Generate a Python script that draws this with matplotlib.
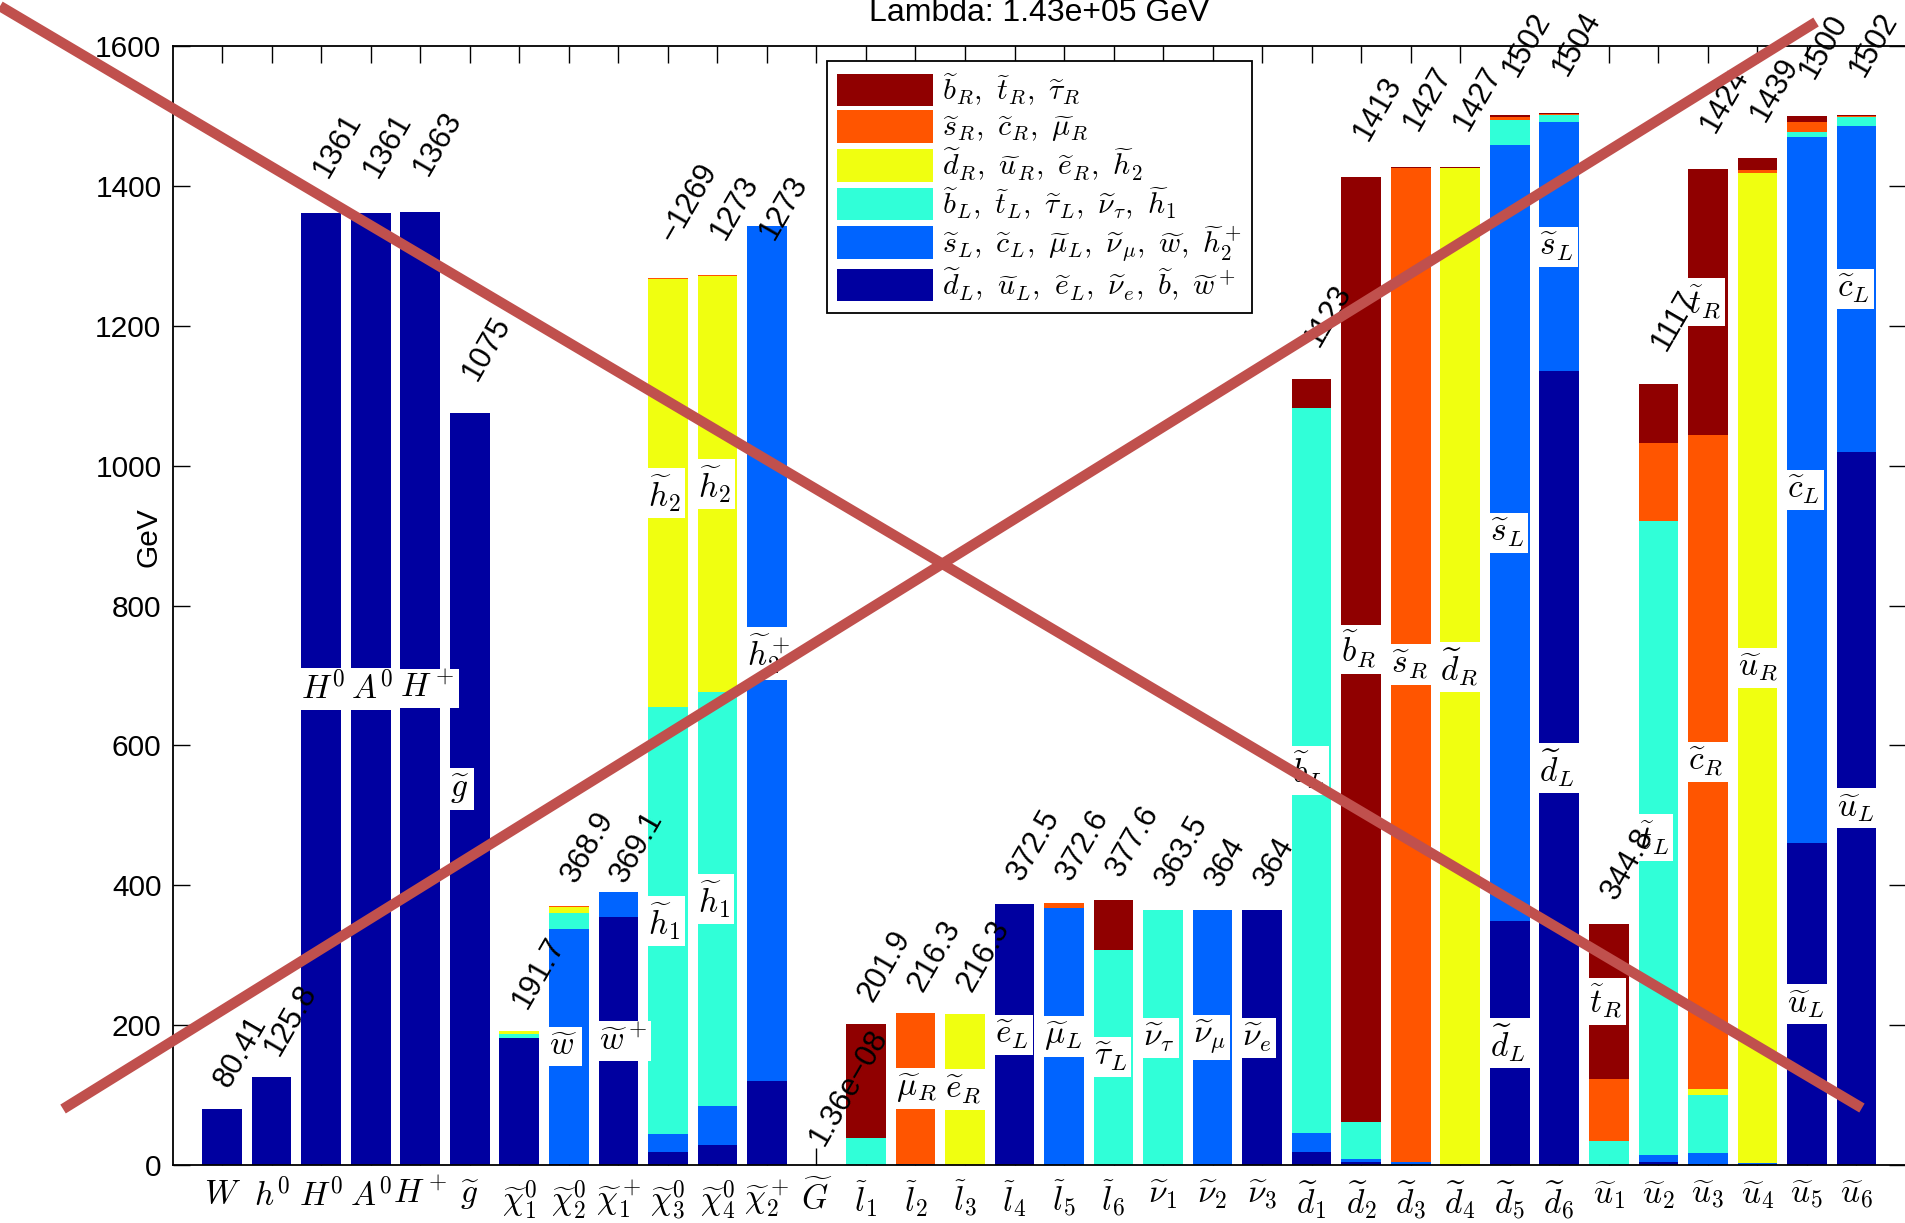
import matplotlib
matplotlib.use('Agg')
import matplotlib.pyplot as plt
import numpy as np
from matplotlib.lines import Line2D
from matplotlib.patches import Patch

plt.rcParams['font.family'] = ['Liberation Sans', 'DejaVu Sans']
plt.rcParams['mathtext.fontset'] = 'cm'

names = [r'$W$', r'$h^0$', r'$H^0$', r'$A^0$', r'$H^+$', r'$\widetilde{g}$',
         r'$\widetilde{\chi}_1^0$', r'$\widetilde{\chi}_2^0$', r'$\widetilde{\chi}_1^+$',
         r'$\widetilde{\chi}_3^0$', r'$\widetilde{\chi}_4^0$', r'$\widetilde{\chi}_2^+$',
         r'$\widetilde{G}$',
         r'$\widetilde{l}_1$', r'$\widetilde{l}_2$', r'$\widetilde{l}_3$',
         r'$\widetilde{l}_4$', r'$\widetilde{l}_5$', r'$\widetilde{l}_6$',
         r'$\widetilde{\nu}_1$', r'$\widetilde{\nu}_2$', r'$\widetilde{\nu}_3$',
         r'$\widetilde{d}_1$', r'$\widetilde{d}_2$', r'$\widetilde{d}_3$',
         r'$\widetilde{d}_4$', r'$\widetilde{d}_5$', r'$\widetilde{d}_6$',
         r'$\widetilde{u}_1$', r'$\widetilde{u}_2$', r'$\widetilde{u}_3$',
         r'$\widetilde{u}_4$', r'$\widetilde{u}_5$', r'$\widetilde{u}_6$']

# stacked components (GeV), bottom to top
dL = [80.41, 125.8, 1361, 1361, 1363, 1075, 182, 2, 355, 18, 28, 120, 0,
      0, 0, 0, 373, 0, 0, 0, 0, 364,
      18, 4, 0, 0, 349, 1135, 0, 5, 2, 0, 461, 1020]
sL = [0, 0, 0, 0, 0, 0, 0, 335, 35, 26, 56, 1223, 0,
      0, 2, 0, 0, 368, 0, 0, 364, 0,
      28, 4, 5, 0, 1110, 356, 0, 10, 15, 3, 1009, 465]
bL = [0, 0, 0, 0, 0, 0, 6, 24, 0, 611, 592, 0, 0,
      38, 0, 0, 0, 0, 308, 364, 0, 0,
      1036, 53, 0, 0, 35, 10, 34, 906, 83, 0, 7, 13]
dR = [0, 0, 0, 0, 0, 0, 3, 8, 0, 612, 595, 0, 0,
      0, 0, 216, 0, 0, 0, 0, 0, 0,
      0, 0, 0, 1425, 0, 0, 1, 0, 8, 1415, 0, 0]
sR = [0, 0, 0, 0, 0, 0, 1, 1, 0, 1, 1, 0, 0,
      0, 215, 0, 0, 6, 0, 0, 0, 0,
      0, 0, 1421, 1, 4, 2, 88, 112, 936, 5, 14, 2]
bR = [0, 0, 0, 0, 0, 0, 0, 0, 0, 0, 0, 0, 0,
      164, 0, 0.5, 0, 0, 71, 0, 0, 0,
      42, 1352, 1, 1, 4, 1, 222, 84, 380, 17, 9, 2]

# printed masses above the bars
masses = [80.41, 125.8, 1361, 1361, 1363, 1075, 191.7, 368.9, 369.1, -1269, 1273,
          1273, 1.36e-08, 201.9, 216.3, 216.3, 372.5, 372.6, 377.6, 363.5, 364, 364,
          1123, 1413, 1427, 1427, 1502, 1504, 344.8, 1117, 1424, 1439, 1500, 1502]

# (bar number, component index, text)
inner_labels = [
    (3, 0, r'$H^0$'), (4, 0, r'$A^0$'), (5, 0, r'$H^+$'), (6, 0, r'$\widetilde{g}$'),
    (8, 1, r'$\widetilde{w}$'), (9, 0, r'$\widetilde{w}^+$'),
    (10, 2, r'$\widetilde{h}_1$'), (10, 3, r'$\widetilde{h}_2$'),
    (11, 2, r'$\widetilde{h}_1$'), (11, 3, r'$\widetilde{h}_2$'),
    (12, 1, r'$\widetilde{h}_2^+$'),
    (15, 4, r'$\widetilde{\mu}_R$'), (16, 3, r'$\widetilde{e}_R$'),
    (17, 0, r'$\widetilde{e}_L$'), (18, 1, r'$\widetilde{\mu}_L$'), (19, 2, r'$\widetilde{\tau}_L$'),
    (20, 2, r'$\widetilde{\nu}_\tau$'), (21, 1, r'$\widetilde{\nu}_\mu$'), (22, 0, r'$\widetilde{\nu}_e$'),
    (23, 2, r'$\widetilde{b}_L$'), (24, 5, r'$\widetilde{b}_R$'), (25, 4, r'$\widetilde{s}_R$'),
    (26, 3, r'$\widetilde{d}_R$'),
    (27, 0, r'$\widetilde{d}_L$'), (27, 1, r'$\widetilde{s}_L$'),
    (28, 0, r'$\widetilde{d}_L$'), (28, 1, r'$\widetilde{s}_L$'),
    (29, 5, r'$\widetilde{t}_R$'), (30, 2, r'$\widetilde{t}_L$'),
    (31, 4, r'$\widetilde{c}_R$'), (31, 5, r'$\widetilde{t}_R$'),
    (32, 3, r'$\widetilde{u}_R$'),
    (33, 0, r'$\widetilde{u}_L$'), (33, 1, r'$\widetilde{c}_L$'),
    (34, 0, r'$\widetilde{u}_L$'), (34, 1, r'$\widetilde{c}_L$'),
]

legend_labels = [r'$\widetilde{d}_L,\ \widetilde{u}_L,\ \widetilde{e}_L,\ \widetilde{\nu}_e,\ \widetilde{b},\ \widetilde{w}^+$',
                 r'$\widetilde{s}_L,\ \widetilde{c}_L,\ \widetilde{\mu}_L,\ \widetilde{\nu}_\mu,\ \widetilde{w},\ \widetilde{h}_2^+$',
                 r'$\widetilde{b}_L,\ \widetilde{t}_L,\ \widetilde{\tau}_L,\ \widetilde{\nu}_\tau,\ \widetilde{h}_1$',
                 r'$\widetilde{d}_R,\ \widetilde{u}_R,\ \widetilde{e}_R,\ \widetilde{h}_2$',
                 r'$\widetilde{s}_R,\ \widetilde{c}_R,\ \widetilde{\mu}_R$',
                 r'$\widetilde{b}_R,\ \widetilde{t}_R,\ \widetilde{\tau}_R$']
colors = ['#0000A0', '#0064FF', '#30FFD8', '#F0FF10', '#FF5500', '#900000']

fig = plt.figure(figsize=(19.05, 12.23), dpi=100)
ax = fig.add_axes([0.0906, 0.0474, 0.9099, 0.915])

x = np.arange(1, len(names) + 1)
comps = np.array([dL, sL, bL, dR, sR, bR], dtype=float)
bottoms = np.vstack([np.zeros(len(x)), np.cumsum(comps, axis=0)[:-1]])

for k in range(6):
    ax.bar(x, comps[k], bottom=bottoms[k], width=0.8, color=colors[k], edgecolor='none')

for bar, k, txt in inner_labels:
    i = bar - 1
    ax.text(x[i] - 0.4, bottoms[k][i] + comps[k][i] / 2, txt, fontsize=24,
            ha='left', va='center',
            bbox=dict(facecolor='white', edgecolor='none', pad=3))

for i, m in enumerate(masses):
    lab = ('%.4g' % m).replace('-', '\u2212')
    ax.text(x[i], 1.017 * abs(m) + 32, lab, fontsize=22, rotation=60,
            rotation_mode='anchor', ha='left', va='center', clip_on=False)

ax.set_xlim(0, len(names) + 1)
ax.set_ylim(0, 1600)
ax.set_xticks(x)
ax.set_xticklabels(names, fontsize=24)
ax.set_yticks(np.arange(0, 1601, 200))
ax.tick_params(axis='y', labelsize=21.5)
ax.tick_params(direction='in', length=12, width=1, top=True, right=True, pad=8)
ax.tick_params(axis='x', pad=10)
ax.set_axisbelow(True)
for s in ax.spines.values():
    s.set_linewidth(1.3)

ax.text(-0.0141, 0.561, 'GeV', transform=ax.transAxes, rotation=90,
        ha='center', va='center', fontsize=21.5)
ax.set_title('Lambda: 1.43e+05 GeV', fontsize=23, pad=18)

handles = [Patch(facecolor=colors[k], edgecolor='none') for k in range(5, -1, -1)]
leg = ax.legend(handles, legend_labels[::-1], loc='upper left',
                bbox_to_anchor=(827 / 1905, 1 - 61 / 1223), bbox_transform=fig.transFigure,
                borderaxespad=0, fontsize=21.5, handlelength=3.2, handleheight=1.3,
                labelspacing=0.08, handletextpad=0.3, borderpad=0.35, fancybox=False,
                framealpha=1, edgecolor='black')
leg.get_frame().set_linewidth(1.3)

# red cross drawn over the whole picture
cross_color = '#C0504D'
fig.add_artist(Line2D([0.0, 0.9774], [0.995, 0.094], transform=fig.transFigure,
                      color=cross_color, lw=7.5, solid_capstyle='butt'))
fig.add_artist(Line2D([0.0331, 0.9533], [0.0932, 0.982], transform=fig.transFigure,
                      color=cross_color, lw=7.5, solid_capstyle='butt'))

fig.savefig('out.png', dpi=100)
